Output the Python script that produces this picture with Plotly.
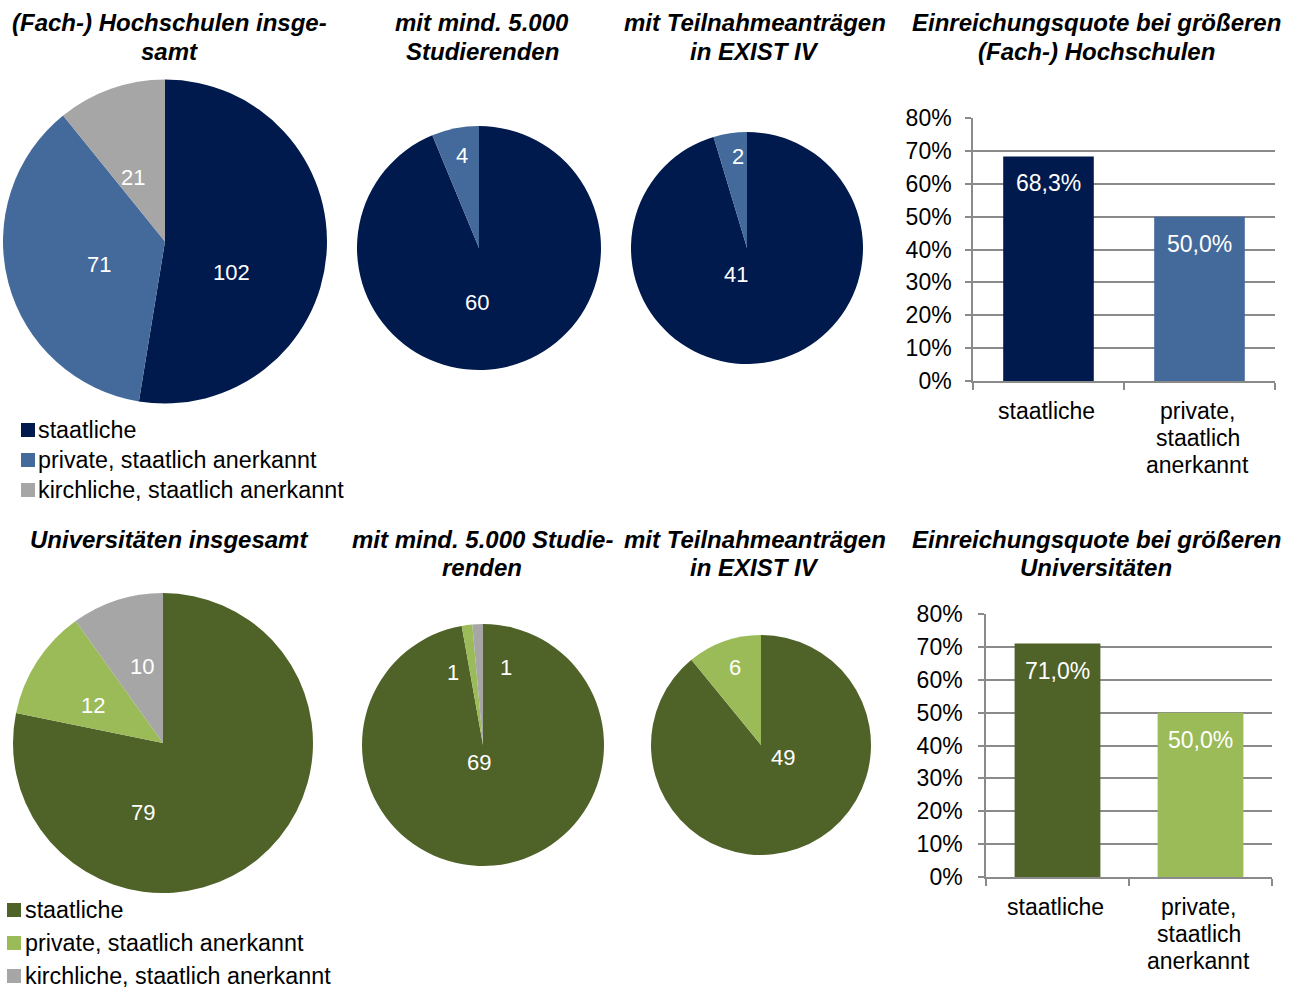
import math
import plotly.graph_objects as go

W, H = 1295, 988

# ---------------- data ----------------
type_labels = ["staatliche", "private, staatlich anerkannt", "kirchliche, staatlich anerkannt"]

hs_total = [102, 71, 21]
hs_5000 = [60, 4, 0]
hs_exist = [41, 2, 0]

uni_total = [79, 12, 10]
uni_5000 = [69, 1, 1]
uni_exist = [49, 6, 0]

bar_categories = ["staatliche", "private,<br>staatlich<br>anerkannt"]
hs_quote = [0.683, 0.500]
uni_quote = [0.710, 0.500]

titles_top = [
    ["(Fach-) Hochschulen insge-", "samt"],
    ["mit mind. 5.000", "Studierenden"],
    ["mit Teilnahmeanträgen", "in EXIST IV"],
    ["Einreichungsquote bei größeren", "(Fach-) Hochschulen"],
]
titles_bottom = [
    ["Universitäten insgesamt"],
    ["mit mind. 5.000 Studie-", "renden"],
    ["mit Teilnahmeanträgen", "in EXIST IV"],
    ["Einreichungsquote bei größeren", "Universitäten"],
]

# ---------------- style ----------------
BLUE = ["#001A4D", "#436A9B", "#A6A6A6"]
GREEN = ["#4F6228", "#9BBB59", "#A6A6A6"]
GRID = "#8A8A8A"
FONT = "Liberation Sans, Arial, sans-serif"

# pie geometry in pixels: (cx, cy, r)
pie_geom = {
    "hs_total": (165, 241.5, 162),
    "hs_5000": (479, 248, 122),
    "hs_exist": (747, 248, 116),
    "uni_total": (163, 743, 150),
    "uni_5000": (483, 745, 121),
    "uni_exist": (761, 745, 110),
}
# label placement: (radius fraction, angle offset from slice bisector in deg)
pie_label_style = {
    "hs_total": [(0.454, 19.9), (0.43, -4.8), (0.44, -7.2)],
    "hs_5000": [(0.45, 13.3), (0.77, 0.7), (0, 0)],
    "hs_exist": [(0.245, 31), (0.79, 2.7), (0, 0)],
    "uni_total": [(0.485, 55.1), (0.53, -4.5), (0.53, 2.5)],
    "uni_5000": [(0.145, 18.3), (0.65, -14.7), (0.67, 18.9)],
    "uni_exist": [(0.23, -39.8), (0.745, 1.2), (0, 0)],
}

pies = [
    ("hs_total", hs_total, BLUE),
    ("hs_5000", hs_5000, BLUE),
    ("hs_exist", hs_exist, BLUE),
    ("uni_total", uni_total, GREEN),
    ("uni_5000", uni_5000, GREEN),
    ("uni_exist", uni_exist, GREEN),
]


def px(x):
    return x / W


def py(y):
    return 1 - y / H


fig = go.Figure()
annotations = []
shapes = []

for key, vals, cols in pies:
    cx, cy, r = pie_geom[key]
    fig.add_trace(go.Pie(
        labels=type_labels, values=vals,
        marker=dict(colors=cols, line=dict(width=0)),
        sort=False, direction="clockwise", rotation=0,
        textinfo="none", hoverinfo="label+value", showlegend=False,
        domain=dict(x=[px(cx - r), px(cx + r)], y=[py(cy + r), py(cy - r)]),
    ))
    total = sum(vals)
    cum = 0
    for i, v in enumerate(vals):
        if v <= 0:
            continue
        mid = (cum + v / 2) / total * 360
        cum += v
        frac, delta = pie_label_style[key][i]
        th = math.radians(mid + delta)
        lx = cx + frac * r * math.sin(th)
        ly = cy - frac * r * math.cos(th)
        annotations.append(dict(
            x=px(lx), y=py(ly), xref="paper", yref="paper", text=str(v),
            showarrow=False, xanchor="center", yanchor="middle",
            font=dict(family=FONT, size=22, color="white")))

# ---------------- bar charts ----------------
bar_sets = [
    ("x", "y", hs_quote, BLUE[:2], [411, 438, 465]),
    ("x2", "y2", uni_quote, GREEN[:2], [907, 934, 961]),
]
for xa, ya, vals, cols, label_ys in bar_sets:
    fig.add_trace(go.Bar(
        x=bar_categories, y=vals, marker=dict(color=cols, line=dict(width=0)),
        xaxis=xa, yaxis=ya, showlegend=False, hoverinfo="x+y"))
    for c, v in zip(bar_categories, vals):
        annotations.append(dict(
            x=c, y=v, xref=xa, yref=ya,
            text=f"{v * 100:.1f}".replace(".", ",") + "%",
            showarrow=False, xanchor="center", yanchor="middle", yshift=-27,
            font=dict(family=FONT, size=23, color="white")))
        for li, line in enumerate(c.split("<br>")):
            annotations.append(dict(
                x=c, y=py(label_ys[li]), xref=xa, yref="paper", text=line,
                showarrow=False, xanchor="center", yanchor="middle", xshift=-2,
                font=dict(family=FONT, size=23, color="black")))

axis_common_x = dict(
    type="category", tickson="boundaries", ticks="outside", ticklen=7,
    tickcolor=GRID, tickwidth=1.5, showticklabels=False, showgrid=False,
    showline=True, linecolor=GRID, linewidth=1.5, fixedrange=True,
    automargin=False)
axis_common_y = dict(
    range=[0, 0.8], dtick=0.1, tickformat=".0%", ticks="outside", ticklen=6,
    tickcolor=GRID, tickwidth=1.5, showgrid=True, gridcolor=GRID, gridwidth=1.5,
    showline=True, linecolor=GRID, linewidth=1.5, zeroline=False,
    tickfont=dict(family=FONT, size=23, color="black"), fixedrange=True,
    automargin=False)

fig.update_layout(
    xaxis=dict(domain=[px(973), px(1275)], anchor="y", **axis_common_x),
    yaxis=dict(domain=[py(381), py(118)], anchor="x", ticklabelstandoff=9,
               **axis_common_y),
    xaxis2=dict(domain=[px(986), px(1272)], anchor="y2", **axis_common_x),
    yaxis2=dict(domain=[py(877), py(614)], anchor="x2", ticklabelstandoff=11,
                **axis_common_y),
    bargap=0.4,
)

# ---------------- titles ----------------
title_x = [169, 482, 755, 1096]
for row, ys in ((titles_top, [23, 51]), (titles_bottom, [539, 567])):
    for t, tx in zip(row, title_x):
        for li, line in enumerate(t):
            annotations.append(dict(
                x=px(tx), y=py(ys[li]), xref="paper", yref="paper", text=line,
                showarrow=False, xanchor="center", yanchor="middle",
                font=dict(family=FONT, size=24, color="black", weight="bold",
                          style="italic")))

# ---------------- legends ----------------
legend_specs = [
    (BLUE, 21, 36, [430, 460, 490]),
    (GREEN, 7, 23, [910, 943, 976]),
]
for cols, sq_x, tx, ys in legend_specs:
    for lab, col, yc in zip(type_labels, cols, ys):
        shapes.append(dict(
            type="rect", xref="paper", yref="paper",
            x0=px(sq_x), x1=px(sq_x + 14), y0=py(yc + 7), y1=py(yc - 7),
            fillcolor=col, line=dict(width=0)))
        annotations.append(dict(
            x=px(tx), y=py(yc), xref="paper", yref="paper", text=lab,
            showarrow=False, xanchor="left", yanchor="middle",
            font=dict(family=FONT, size=23.3, color="black")))

fig.update_layout(
    width=W, height=H, margin=dict(l=0, r=0, t=0, b=0, pad=0, autoexpand=False),
    paper_bgcolor="white", plot_bgcolor="white",
    annotations=annotations, shapes=shapes,
    font=dict(family=FONT), showlegend=False,
)

fig.write_html(
    "out.html",
    config={"displayModeBar": False},
    post_script="document.body.style.margin='0';document.body.style.padding='0';"
                "document.documentElement.style.overflow='hidden';",
)
